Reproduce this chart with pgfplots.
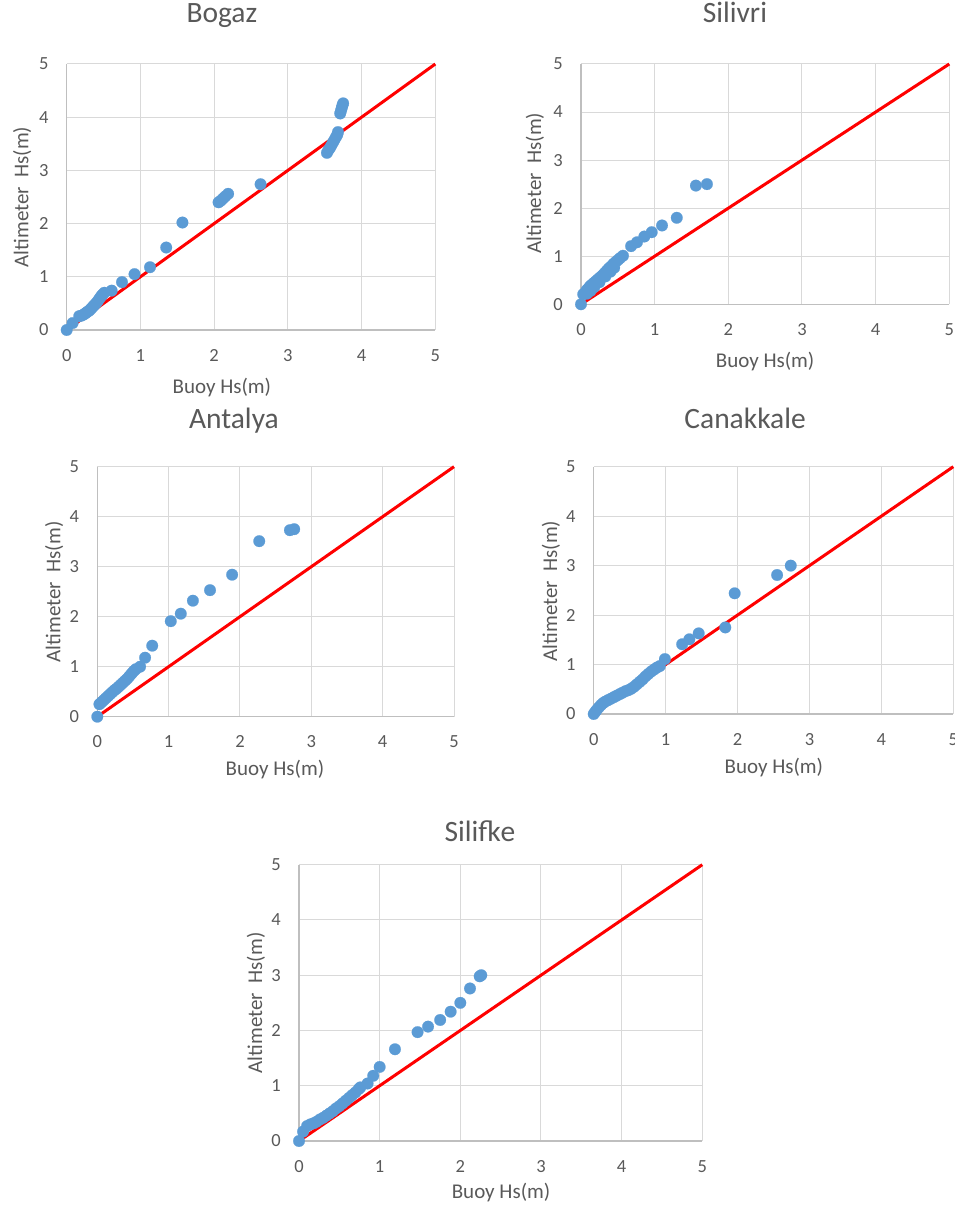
\documentclass[border=0pt]{standalone}
\usepackage{fontspec}
\setmainfont{Carlito}
\usepackage{pgfplots}
\pgfplotsset{compat=1.18}

\definecolor{txt}{HTML}{595959}
\definecolor{gridc}{HTML}{D9D9D9}
\definecolor{axc}{HTML}{BFBFBF}
\definecolor{dotblue}{HTML}{5B9BD5}
\definecolor{linered}{HTML}{FF0000}

\pgfplotsset{
  hsplot/.style={
    scale only axis,
    anchor=south west,
    xmin=0, xmax=5, ymin=0, ymax=5,
    xtick={0,1,2,3,4,5}, ytick={0,1,2,3,4,5},
    axis lines*=left,
    axis line style={-, axc, line width=1.3pt},
    x axis line style={-}, y axis line style={-},
    grid=major,
    grid style={gridc, line width=1pt},
    major tick length=0pt,
    clip=false,
    /pgf/number format/assume math mode=true,
    tick label style={font=\fontsize{18.5}{22}\selectfont, text=txt},
    xticklabel style={anchor=north, inner sep=0pt, yshift=-19pt},
    yticklabel style={anchor=east, inner sep=0pt, xshift=-18pt},
    label style={font=\fontsize{21}{25}\selectfont, text=txt},
    title style={font=\fontsize{29.5}{34}\selectfont, text=txt, anchor=base},
    xlabel={Buoy Hs(m)},
    ylabel={Altimeter\ \ Hs(m)},
  },
  oneone/.style={linered, line width=3pt, forget plot},
  hsdots/.style={only marks, mark=*, mark size=5.8pt,
    mark options={fill=dotblue, draw=dotblue, line width=0.2pt}},
}

\begin{document}
\begin{tikzpicture}
\path[use as bounding box] (0,0) rectangle (954pt,1205pt);

% Bogaz
\begin{axis}[hsplot, at={(66.7pt,875pt)}, width=368.6pt, height=266pt,
  title={Bogaz},
  title style={at={(axis description cs:0.421,1)}, yshift=35pt},
  xlabel style={at={(axis description cs:0.421,-0.218)}, anchor=center},
  ylabel style={at={(axis description cs:-0.121,0.5)}, anchor=center}]
\addplot[oneone] coordinates {(0,0) (5,5)};
\addplot[hsdots] coordinates {
(0,0) (0.08,0.13) (0.17,0.26)
(0.20,0.27) (0.23,0.29) (0.25,0.31) (0.27,0.33) (0.29,0.35) (0.31,0.37)
(0.33,0.40) (0.35,0.43) (0.37,0.46) (0.39,0.49) (0.41,0.52) (0.43,0.56)
(0.45,0.60) (0.47,0.64) (0.49,0.67) (0.51,0.70)
(0.61,0.74) (0.75,0.90) (0.92,1.05) (1.13,1.18) (1.35,1.55) (1.57,2.02)
(2.06,2.40) (2.09,2.43) (2.12,2.47) (2.15,2.51) (2.19,2.56)
(2.63,2.74)
(3.53,3.33) (3.55,3.38) (3.57,3.42) (3.59,3.47) (3.61,3.52) (3.63,3.57)
(3.65,3.62) (3.67,3.67) (3.68,3.72)
(3.71,4.07) (3.72,4.12) (3.73,4.17) (3.74,4.22) (3.75,4.26)
};
\end{axis}

% Silivri
\begin{axis}[hsplot, at={(581pt,900.7pt)}, width=368.3pt, height=240.3pt,
  title={Silivri},
  title style={at={(axis description cs:0.418,1)}, yshift=35pt},
  xlabel style={at={(axis description cs:0.5,-0.240)}, anchor=center},
  ylabel style={at={(axis description cs:-0.125,0.504)}, anchor=center}]
\addplot[oneone] coordinates {(0,0) (5,5)};
\addplot[hsdots] coordinates {
(0,0)
(0.03,0.21) (0.06,0.25) (0.08,0.30) (0.10,0.33) (0.12,0.37) (0.14,0.40)
(0.17,0.44) (0.20,0.48) (0.23,0.52) (0.26,0.56) (0.29,0.60) (0.32,0.65)
(0.35,0.70) (0.38,0.75) (0.41,0.79) (0.44,0.84) (0.47,0.88) (0.50,0.92)
(0.53,0.96) (0.57,1.01)
(0.08,0.22) (0.13,0.28) (0.18,0.36) (0.25,0.46) (0.33,0.58) (0.40,0.68) (0.45,0.76)
(0.68,1.21) (0.76,1.29) (0.86,1.41) (0.96,1.50) (1.10,1.64) (1.30,1.80)
(1.56,2.47) (1.71,2.50)
};
\end{axis}

% Antalya
\begin{axis}[hsplot, at={(97.3pt,488.3pt)}, width=356.7pt, height=250pt,
  title={Antalya},
  title style={at={(axis description cs:0.383,1)}, yshift=32pt},
  xlabel style={at={(axis description cs:0.498,-0.213)}, anchor=center},
  ylabel style={at={(axis description cs:-0.121,0.499)}, anchor=center}]
\addplot[oneone] coordinates {(0,0) (5,5)};
\addplot[hsdots] coordinates {
(0,0)
(0.03,0.25) (0.06,0.29) (0.09,0.33) (0.12,0.37) (0.15,0.41) (0.18,0.45)
(0.21,0.49) (0.24,0.53) (0.27,0.56) (0.30,0.60) (0.33,0.64) (0.36,0.68)
(0.39,0.72) (0.42,0.76) (0.45,0.81) (0.48,0.86) (0.51,0.91) (0.54,0.95)
(0.60,1.00) (0.67,1.18) (0.77,1.42) (1.03,1.91) (1.17,2.06) (1.34,2.32)
(1.58,2.53) (1.89,2.84) (2.27,3.51) (2.70,3.73) (2.76,3.75)
};
\end{axis}

% Canakkale
\begin{axis}[hsplot, at={(593.7pt,491pt)}, width=359.6pt, height=247.3pt,
  title={Canakkale},
  title style={at={(axis description cs:0.421,1)}, yshift=32pt},
  xlabel style={at={(axis description cs:0.501,-0.218)}, anchor=center},
  ylabel style={at={(axis description cs:-0.119,0.497)}, anchor=center}]
\addplot[oneone] coordinates {(0,0) (5,5)};
\addplot[hsdots] coordinates {
(0,0) (0.02,0.04) (0.04,0.08) (0.07,0.13) (0.10,0.18) (0.13,0.22)
(0.16,0.25) (0.20,0.28) (0.24,0.31) (0.28,0.34) (0.32,0.37) (0.36,0.40)
(0.40,0.43) (0.44,0.46) (0.48,0.48) (0.52,0.51) (0.56,0.55) (0.60,0.60)
(0.64,0.65) (0.68,0.70) (0.72,0.76) (0.76,0.81) (0.80,0.86) (0.84,0.90)
(0.88,0.94) (0.92,0.97) (0.99,1.11)
(1.23,1.41) (1.33,1.51) (1.46,1.63) (1.83,1.75) (1.96,2.44) (2.55,2.81) (2.74,3.00)
};
\end{axis}

% Silifke
\begin{axis}[hsplot, at={(299pt,64pt)}, width=403.3pt, height=276.3pt,
  title={Silifke},
  title style={at={(axis description cs:0.449,1)}, yshift=17pt},
  xlabel style={at={(axis description cs:0.501,-0.188)}, anchor=center},
  ylabel style={at={(axis description cs:-0.107,0.5)}, anchor=center}]
\addplot[oneone] coordinates {(0,0) (5,5)};
\addplot[hsdots] coordinates {
(0,0) (0.05,0.17) (0.10,0.27) (0.14,0.30) (0.18,0.32) (0.22,0.35)
(0.26,0.39) (0.30,0.42) (0.34,0.46) (0.38,0.50) (0.42,0.54) (0.46,0.59)
(0.50,0.63) (0.54,0.68) (0.58,0.73) (0.62,0.78) (0.66,0.83) (0.70,0.88)
(0.74,0.94) (0.76,0.97)
(0.85,1.04) (0.92,1.18) (1.00,1.34) (1.19,1.66) (1.47,1.97) (1.60,2.07)
(1.75,2.19) (1.88,2.34) (2.00,2.50) (2.12,2.76) (2.24,2.98) (2.26,3.00)
};
\end{axis}
\end{tikzpicture}
\end{document}
